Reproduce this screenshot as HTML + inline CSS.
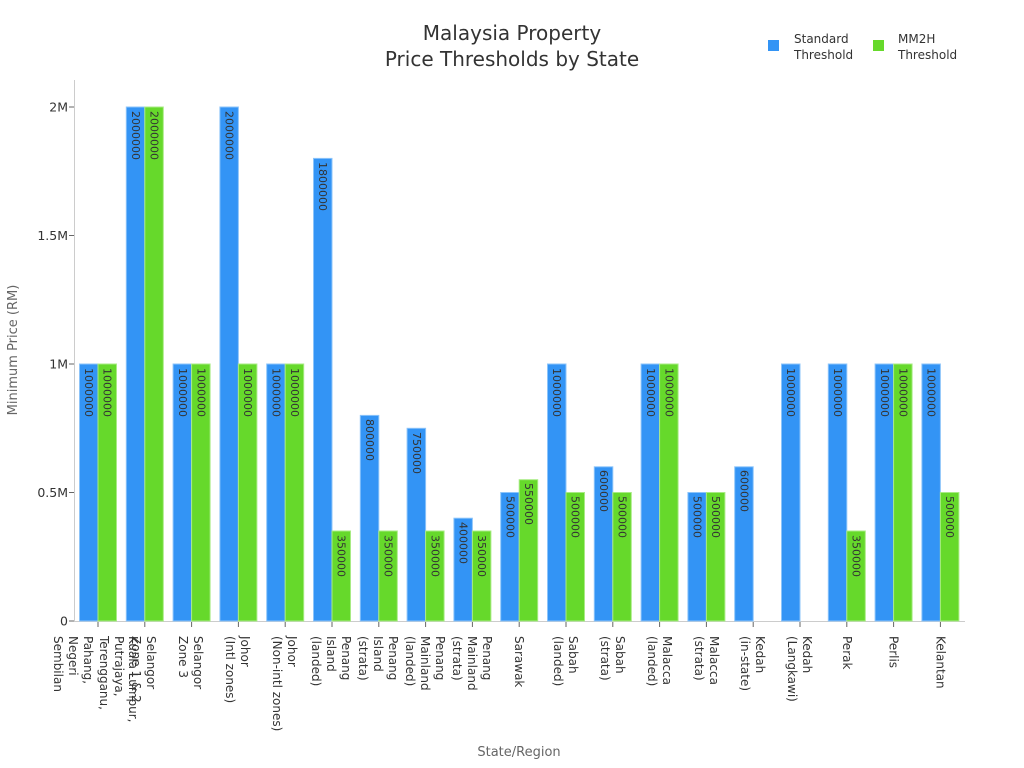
<!DOCTYPE html>
<html><head><meta charset="utf-8"><style>
html,body{margin:0;padding:0;background:#fff;}
svg{display:block;font-family:"DejaVu Sans","Liberation Sans",sans-serif;}
.b{fill:#3394f5;stroke:#8cc4fa;stroke-width:1}
.g{fill:#66d92b;stroke:#a8eb84;stroke-width:1}
.v{font-size:11px;fill:#333;dominant-baseline:central}
.x{font-size:12px;fill:#333;dominant-baseline:central}
.t{font-size:12.5px;fill:#333;text-anchor:end;dominant-baseline:central}
</style></head><body>
<svg width="1024" height="768" viewBox="0 0 1024 768">
<text x="512" y="40" text-anchor="middle" font-size="20" fill="#333">Malaysia Property</text>
<text x="512" y="66" text-anchor="middle" font-size="20" fill="#333">Price Thresholds by State</text>
<rect x="768" y="40" width="11" height="11" fill="#3394f5"/>
<text x="794" y="43" font-size="12" fill="#333">Standard</text>
<text x="794" y="59" font-size="12" fill="#333">Threshold</text>
<rect x="873" y="40" width="11" height="11" fill="#66d92b"/>
<text x="898" y="43" font-size="12" fill="#333">MM2H</text>
<text x="898" y="59" font-size="12" fill="#333">Threshold</text>
<text transform="translate(17,350) rotate(-90)" text-anchor="middle" font-size="13" fill="#666">Minimum Price (RM)</text>
<text x="519" y="756" text-anchor="middle" font-size="13" fill="#666">State/Region</text>
<line x1="74.5" y1="80" x2="74.5" y2="621" stroke="#ccc"/>
<line x1="74" y1="621.5" x2="965" y2="621.5" stroke="#ccc"/>
<g stroke="#666"><line x1="69" x2="74" y1="621" y2="621"/><line x1="69" x2="74" y1="492.5" y2="492.5"/><line x1="69" x2="74" y1="364" y2="364"/><line x1="69" x2="74" y1="235.5" y2="235.5"/><line x1="69" x2="74" y1="107" y2="107"/></g>
<text class="t" x="68" y="621">0</text><text class="t" x="68" y="492.5">0.5M</text><text class="t" x="68" y="364">1M</text><text class="t" x="68" y="235.5">1.5M</text><text class="t" x="68" y="107">2M</text>
<rect class="b" x="79.5" y="364" width="18.5" height="257"/><rect class="g" x="98" y="364" width="18.5" height="257"/>
<rect class="b" x="126.3" y="107" width="18.5" height="514"/><rect class="g" x="144.8" y="107" width="18.5" height="514"/>
<rect class="b" x="173.1" y="364" width="18.5" height="257"/><rect class="g" x="191.6" y="364" width="18.5" height="257"/>
<rect class="b" x="219.9" y="107" width="18.5" height="514"/><rect class="g" x="238.4" y="364" width="18.5" height="257"/>
<rect class="b" x="266.7" y="364" width="18.5" height="257"/><rect class="g" x="285.2" y="364" width="18.5" height="257"/>
<rect class="b" x="313.5" y="158.4" width="18.5" height="462.6"/><rect class="g" x="332" y="531" width="18.5" height="90"/>
<rect class="b" x="360.3" y="415.4" width="18.5" height="205.6"/><rect class="g" x="378.8" y="531" width="18.5" height="90"/>
<rect class="b" x="407.1" y="428.3" width="18.5" height="192.7"/><rect class="g" x="425.6" y="531" width="18.5" height="90"/>
<rect class="b" x="453.9" y="518.2" width="18.5" height="102.8"/><rect class="g" x="472.4" y="531" width="18.5" height="90"/>
<rect class="b" x="500.7" y="492.5" width="18.5" height="128.5"/><rect class="g" x="519.2" y="479.7" width="18.5" height="141.3"/>
<rect class="b" x="547.5" y="364" width="18.5" height="257"/><rect class="g" x="566" y="492.5" width="18.5" height="128.5"/>
<rect class="b" x="594.3" y="466.8" width="18.5" height="154.2"/><rect class="g" x="612.8" y="492.5" width="18.5" height="128.5"/>
<rect class="b" x="641.1" y="364" width="18.5" height="257"/><rect class="g" x="659.6" y="364" width="18.5" height="257"/>
<rect class="b" x="687.9" y="492.5" width="18.5" height="128.5"/><rect class="g" x="706.4" y="492.5" width="18.5" height="128.5"/>
<rect class="b" x="734.7" y="466.8" width="18.5" height="154.2"/>
<rect class="b" x="781.5" y="364" width="18.5" height="257"/>
<rect class="b" x="828.3" y="364" width="18.5" height="257"/><rect class="g" x="846.8" y="531" width="18.5" height="90"/>
<rect class="b" x="875.1" y="364" width="18.5" height="257"/><rect class="g" x="893.6" y="364" width="18.5" height="257"/>
<rect class="b" x="921.9" y="364" width="18.5" height="257"/><rect class="g" x="940.4" y="492.5" width="18.5" height="128.5"/>
<text class="v" transform="translate(88.7,368) rotate(90)">1000000</text><text class="v" transform="translate(107.2,368) rotate(90)">1000000</text>
<text class="v" transform="translate(135.5,111) rotate(90)">2000000</text><text class="v" transform="translate(154,111) rotate(90)">2000000</text>
<text class="v" transform="translate(182.3,368) rotate(90)">1000000</text><text class="v" transform="translate(200.8,368) rotate(90)">1000000</text>
<text class="v" transform="translate(229.1,111) rotate(90)">2000000</text><text class="v" transform="translate(247.6,368) rotate(90)">1000000</text>
<text class="v" transform="translate(275.9,368) rotate(90)">1000000</text><text class="v" transform="translate(294.4,368) rotate(90)">1000000</text>
<text class="v" transform="translate(322.7,162) rotate(90)">1800000</text><text class="v" transform="translate(341.2,535) rotate(90)">350000</text>
<text class="v" transform="translate(369.5,419) rotate(90)">800000</text><text class="v" transform="translate(388,535) rotate(90)">350000</text>
<text class="v" transform="translate(416.3,432) rotate(90)">750000</text><text class="v" transform="translate(434.8,535) rotate(90)">350000</text>
<text class="v" transform="translate(463.1,522) rotate(90)">400000</text><text class="v" transform="translate(481.6,535) rotate(90)">350000</text>
<text class="v" transform="translate(509.9,496) rotate(90)">500000</text><text class="v" transform="translate(528.4,483) rotate(90)">550000</text>
<text class="v" transform="translate(556.7,368) rotate(90)">1000000</text><text class="v" transform="translate(575.2,496) rotate(90)">500000</text>
<text class="v" transform="translate(603.5,470) rotate(90)">600000</text><text class="v" transform="translate(622,496) rotate(90)">500000</text>
<text class="v" transform="translate(650.3,368) rotate(90)">1000000</text><text class="v" transform="translate(668.8,368) rotate(90)">1000000</text>
<text class="v" transform="translate(697.1,496) rotate(90)">500000</text><text class="v" transform="translate(715.6,496) rotate(90)">500000</text>
<text class="v" transform="translate(743.9,470) rotate(90)">600000</text>
<text class="v" transform="translate(790.7,368) rotate(90)">1000000</text>
<text class="v" transform="translate(837.5,368) rotate(90)">1000000</text><text class="v" transform="translate(856,535) rotate(90)">350000</text>
<text class="v" transform="translate(884.3,368) rotate(90)">1000000</text><text class="v" transform="translate(902.8,368) rotate(90)">1000000</text>
<text class="v" transform="translate(931.1,368) rotate(90)">1000000</text><text class="v" transform="translate(949.6,496) rotate(90)">500000</text>
<g stroke="#666">
<line x1="98" x2="98" y1="622" y2="627"/><line x1="144.8" x2="144.8" y1="622" y2="627"/><line x1="191.6" x2="191.6" y1="622" y2="627"/><line x1="238.4" x2="238.4" y1="622" y2="627"/><line x1="285.2" x2="285.2" y1="622" y2="627"/><line x1="332" x2="332" y1="622" y2="627"/><line x1="378.8" x2="378.8" y1="622" y2="627"/><line x1="425.6" x2="425.6" y1="622" y2="627"/><line x1="472.4" x2="472.4" y1="622" y2="627"/><line x1="519.2" x2="519.2" y1="622" y2="627"/><line x1="566" x2="566" y1="622" y2="627"/><line x1="612.8" x2="612.8" y1="622" y2="627"/><line x1="659.6" x2="659.6" y1="622" y2="627"/><line x1="706.4" x2="706.4" y1="622" y2="627"/><line x1="753.2" x2="753.2" y1="622" y2="627"/><line x1="800" x2="800" y1="622" y2="627"/><line x1="846.8" x2="846.8" y1="622" y2="627"/><line x1="893.6" x2="893.6" y1="622" y2="627"/><line x1="940.4" x2="940.4" y1="622" y2="627"/>
</g>
<text class="x" transform="translate(133,636) rotate(90)">Kuala Lumpur,</text>
<text class="x" transform="translate(119,636) rotate(90)">Putrajaya,</text>
<text class="x" transform="translate(104,636) rotate(90)">Terengganu,</text>
<text class="x" transform="translate(88,636) rotate(90)">Pahang,</text>
<text class="x" transform="translate(73,636) rotate(90)">Negeri</text>
<text class="x" transform="translate(58,636) rotate(90)">Sembilan</text>
<text class="x" transform="translate(151,636) rotate(90)">Selangor</text>
<text class="x" transform="translate(136,636) rotate(90)">Zone 1 &amp; 2</text>
<text class="x" transform="translate(198,636) rotate(90)">Selangor</text>
<text class="x" transform="translate(183,636) rotate(90)">Zone 3</text>
<text class="x" transform="translate(245,636) rotate(90)">Johor</text>
<text class="x" transform="translate(230,636) rotate(90)">(Intl zones)</text>
<text class="x" transform="translate(292,636) rotate(90)">Johor</text>
<text class="x" transform="translate(277,636) rotate(90)">(Non-intl zones)</text>
<text class="x" transform="translate(346,636) rotate(90)">Penang</text>
<text class="x" transform="translate(331,636) rotate(90)">Island</text>
<text class="x" transform="translate(316,636) rotate(90)">(landed)</text>
<text class="x" transform="translate(393,636) rotate(90)">Penang</text>
<text class="x" transform="translate(378,636) rotate(90)">Island</text>
<text class="x" transform="translate(363,636) rotate(90)">(strata)</text>
<text class="x" transform="translate(440,636) rotate(90)">Penang</text>
<text class="x" transform="translate(425,636) rotate(90)">Mainland</text>
<text class="x" transform="translate(410,636) rotate(90)">(landed)</text>
<text class="x" transform="translate(487,636) rotate(90)">Penang</text>
<text class="x" transform="translate(472,636) rotate(90)">Mainland</text>
<text class="x" transform="translate(457,636) rotate(90)">(strata)</text>
<text class="x" transform="translate(519,636) rotate(90)">Sarawak</text>
<text class="x" transform="translate(573,636) rotate(90)">Sabah</text>
<text class="x" transform="translate(558,636) rotate(90)">(landed)</text>
<text class="x" transform="translate(620,636) rotate(90)">Sabah</text>
<text class="x" transform="translate(605,636) rotate(90)">(strata)</text>
<text class="x" transform="translate(667,636) rotate(90)">Malacca</text>
<text class="x" transform="translate(652,636) rotate(90)">(landed)</text>
<text class="x" transform="translate(714,636) rotate(90)">Malacca</text>
<text class="x" transform="translate(699,636) rotate(90)">(strata)</text>
<text class="x" transform="translate(760,636) rotate(90)">Kedah</text>
<text class="x" transform="translate(745,636) rotate(90)">(in-state)</text>
<text class="x" transform="translate(807,636) rotate(90)">Kedah</text>
<text class="x" transform="translate(792,636) rotate(90)">(Langkawi)</text>
<text class="x" transform="translate(846.8,636) rotate(90)">Perak</text>
<text class="x" transform="translate(893.6,636) rotate(90)">Perlis</text>
<text class="x" transform="translate(940.4,636) rotate(90)">Kelantan</text>
</svg>
</body></html>
